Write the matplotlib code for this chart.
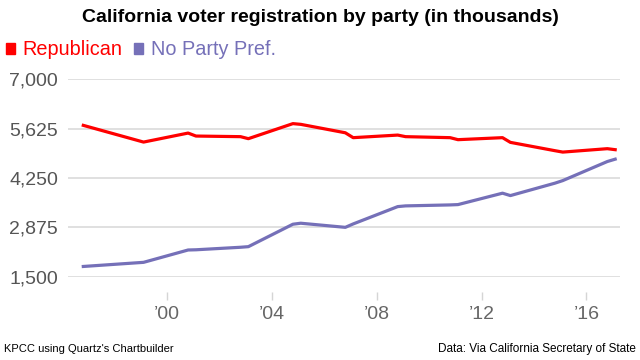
import matplotlib
matplotlib.use("Agg")
import matplotlib.pyplot as plt
from matplotlib.patches import Rectangle

plt.rcParams['font.family'] = ['Liberation Sans', 'DejaVu Sans']

# registration reports (fractional year), values in thousands
years = [1996.8, 1999.1, 2000.8, 2001.1, 2002.8, 2003.1, 2004.8, 2005.1,
         2006.8, 2007.1, 2008.8, 2009.1, 2010.8, 2011.1, 2012.8, 2013.1,
         2014.8, 2015.1, 2016.8, 2017.1]
republican = [5717, 5251, 5502, 5419, 5402, 5346, 5765, 5745,
              5510, 5374, 5446, 5402, 5374, 5318, 5374, 5243,
              5011, 4972, 5067, 5039]
no_party = [1785, 1900, 2244, 2250, 2320, 2337, 2962, 2990,
            2875, 2970, 3453, 3473, 3500, 3509, 3827, 3760,
            4106, 4178, 4709, 4775]

y_ticks = [1500, 2875, 4250, 5625, 7000]
x_ticks = [2000, 2004, 2008, 2012, 2016]
x_labels = ["\u201900", "\u201904", "\u201908", "\u201912", "\u201916"]

red = "#ff0000"
purple = "#7570b8"

fig = plt.figure(figsize=(6.4, 3.6), dpi=100)
ax = fig.add_axes([0.106, 0.2314, 0.863, 0.5483])

ax.plot(years, republican, color=red, lw=2.3, solid_joinstyle='round')
ax.plot(years, no_party, color=purple, lw=2.3, solid_joinstyle='round')

ax.set_ylim(1500, 7000)
ax.set_xlim(1996.21, 2017.29)
ax.set_yticks(y_ticks)
ax.set_yticklabels([f"{v:,}" for v in y_ticks])
ax.set_xticks(x_ticks)
ax.set_xticklabels(x_labels)

ax.grid(axis='y', color='#dddddd', lw=1.3)
ax.set_axisbelow(True)
for s in ['top', 'right', 'left']:
    ax.spines[s].set_visible(False)
ax.spines['bottom'].set_position(('outward', 11))
ax.spines['bottom'].set_visible(False)

ax.tick_params(axis='y', length=0, pad=7, labelsize=14, labelcolor='#555555')
ax.tick_params(axis='x', length=6, width=1, color='#d5d5d5', pad=4,
               labelsize=14, labelcolor='#666666')

fig.text(0.5, 0.95, "California voter registration by party (in thousands)",
         ha='center', va='center', fontsize=14, fontweight='bold', color='black')

# legend
fig.patches.append(Rectangle((5.5 / 640, 1 - 54 / 360), 9 / 640, 11.5 / 360,
                             transform=fig.transFigure, color=red))
fig.text(22 / 640, 1 - 55 / 360, "Republican", ha='left', va='baseline',
         fontsize=14.3, color=red)
fig.patches.append(Rectangle((134 / 640, 1 - 54 / 360), 9 / 640, 11.5 / 360,
                             transform=fig.transFigure, color=purple))
fig.text(151 / 640, 1 - 55 / 360, "No Party Pref.", ha='left', va='baseline',
         fontsize=14.3, color=purple)

fig.text(4 / 640, 1 - 352 / 360, "KPCC using Quartz's Chartbuilder",
         ha='left', va='baseline', fontsize=8, color='black')
fig.text(636 / 640, 1 - 352 / 360, "Data: Via California Secretary of State",
         ha='right', va='baseline', fontsize=8.5, color='black')

fig.savefig("out.png", dpi=100)
